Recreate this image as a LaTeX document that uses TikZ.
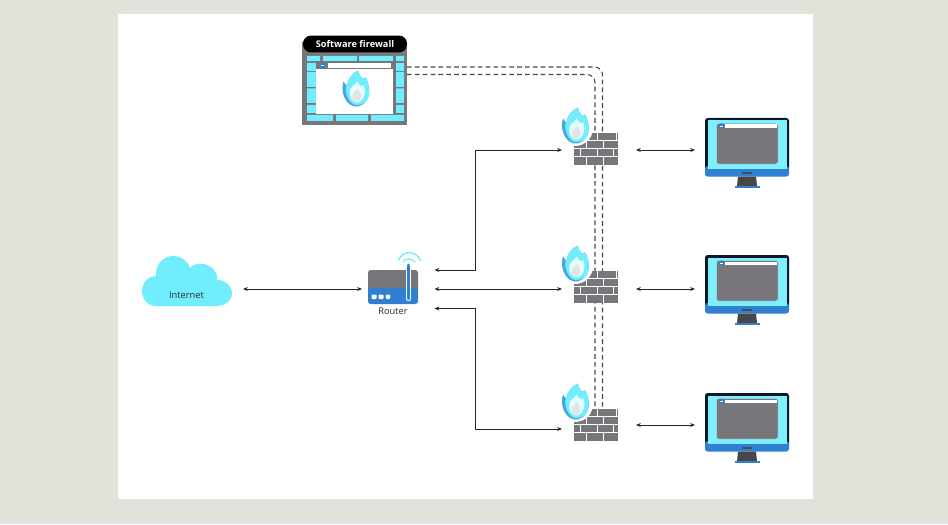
\documentclass[tikz,border=0pt]{standalone}
\usepackage{fontspec}
\setmainfont{Open Sans}
\usetikzlibrary{arrows.meta}
\definecolor{pagebg}{HTML}{E0E3DA}
\definecolor{cyanfill}{HTML}{70EEFD}
\definecolor{brick}{HTML}{77767B}
\definecolor{azure}{HTML}{2F80D0}
\definecolor{inktext}{HTML}{2A2F35}
\tikzset{
  x=0.75pt,y=-0.75pt,
  link/.style={draw=black!85,line width=0.6pt,{Stealth[length=3.6pt,width=3pt]}-{Stealth[length=3.6pt,width=3pt]}},
  dashlink/.style={draw=black!72,line width=0.8pt,dash pattern=on 3.5pt off 2.4pt,rounded corners=6pt},
  label/.style={font=\fontsize{7}{8}\selectfont,text=inktext,inner sep=0pt},
  flamepic/.pic={
    \begin{scope}[xscale=.92,yscale=.97]
    \fill[azure!65!cyanfill] (3,-20) .. controls (5,-12) and (9,-10) .. (11,-13)
      .. controls (15,-6) and (17,4) .. (12,11) .. controls (8,17) and (-1,19) .. (-6,15)
      .. controls (-13,10) and (-16,0) .. (-13,-9) .. controls (-12,-6) and (-10,-5) .. (-9,-5)
      .. controls (-9,-11) and (-3,-18) .. (3,-20) -- cycle;
    \fill[cyanfill] (3,-20) .. controls (5,-12) and (9,-10) .. (11,-13)
      .. controls (15,-6) and (17,4) .. (12,11) .. controls (9,15) and (3,16) .. (-2,15)
      .. controls (-9,11) and (-12,1) .. (-10,-5) .. controls (-9,-5) and (-9,-5) .. (-9,-5)
      .. controls (-9,-11) and (-3,-18) .. (3,-20) -- cycle;
    \fill[white!82!cyanfill] (2,-9) .. controls (4,-4) and (7,-3) .. (9,-5)
      .. controls (12,2) and (10,10) .. (3,13) .. controls (-3,14) and (-8,7) .. (-6,0)
      .. controls (-5,-3) and (-1,-5) .. (2,-9) -- cycle;
    \fill[brick!20] (2,-1) .. controls (6,3) and (8,7) .. (3,12) .. controls (-2,13) and (-5,9) .. (-3,4)
      .. controls (-2,2) and (1,2) .. (2,-1) -- cycle;
    \end{scope}
  },
  wallpic/.pic={
    \fill[brick] (-22,-16) rectangle (22,15.5);
    \foreach \yy in {-9,-1,7} \fill[white] (-22,\yy) rectangle (22,\yy+1);
    \foreach \xx in {0.5,20} \fill[white] (\xx,-16) rectangle (\xx+1,-9);
    \foreach \xx in {-10,7} \fill[white] (\xx,-8) rectangle (\xx+1,-1);
    \foreach \xx in {-16.5,0.5,17} \fill[white] (\xx,0) rectangle (\xx+1,7);
    \foreach \xx in {-10,7} \fill[white] (\xx,8) rectangle (\xx+1,15.5);
  },
  monitorpic/.pic={
    \fill[black!80!azure,rounded corners=2pt] (0,0) rectangle (84,53);
    \fill[azure,rounded corners=2pt] (0,48) rectangle (84,58.5);
    \fill[cyanfill!90!white] (2.5,2.5) rectangle (81.5,51);
    \fill[black!70] (37,53.5) rectangle (47,56);
    \fill[black!72] (33,58.5) -- (51,58.5) -- (52,68) -- (32,68) -- cycle;
    \fill[azure] (29.5,67.5) rectangle (55,70);
    \fill[brick,rounded corners=1.5pt,draw=white!50!cyanfill,line width=0.3pt] (11.5,5.5) rectangle (73,46);
    \fill[white] (20,6.5) rectangle (72,10);
    \fill[azure] (16.5,8) circle (2.6);
    \fill[white] (15.2,7.7) rectangle (17.8,8.3);
  },
}
\begin{document}
\begin{tikzpicture}
\useasboundingbox (0,0) rectangle (948,524);
\fill[pagebg] (0,0) rectangle (948,524);
\fill[white] (118,14) rectangle (813,499);

\coordinate (swA) at (407,67);
\coordinate (swB) at (407,74.5);
\coordinate (cornerA) at (602.5,67);
\coordinate (cornerB) at (595,74.5);
\coordinate (busA) at (602.5,410);
\coordinate (busB) at (595,410);

\draw[dashlink] (swA) -- (cornerA) -- (busA);
\draw[dashlink] (swB) -- (cornerB) -- (busB);

\foreach \yy in {149,287,425}{
  \pic at (596,\yy) {wallpic};
  \fill[white] (575,\yy-21) circle (18);
  \pic at (575,\yy-22) {flamepic};
}

\fill[brick] (302,42) rectangle (407,125);
\fill[cyanfill]
  (307,56) rectangle (320,61) (323,56) rectangle (357,61) (359,56) rectangle (393,61) (396,56) rectangle (404,61)
  (307,63) rectangle (316,71) (396,63) rectangle (404,71)
  (307,72) rectangle (316,87) (396,72) rectangle (404,87)
  (307,88.5) rectangle (316,103) (396,88.5) rectangle (404,103)
  (307,105) rectangle (316,113) (396,105) rectangle (404,113)
  (307,115) rectangle (333,121) (336,115) rectangle (368,121) (371,115) rectangle (404,121);
\fill[white] (316,62) rectangle (393,114);
\fill[brick] (316,62) rectangle (393,69.5);
\fill[white] (328,63.3) rectangle (391,68);
\fill[azure] (322.5,65.8) circle (3);
\fill[white] (321,65.5) rectangle (324,66.1);
\pic at (355.5,90) {flamepic};
\node[fill=black,text=white,rounded corners=6pt,minimum width=78pt,minimum height=12.7pt,inner sep=0pt,font=\fontsize{6.9}{8}\bfseries\selectfont] (sw) at (355,44) {Software firewall};

\foreach \yy in {118,255,393} \pic at (705,\yy) {monitorpic};

\fill[cyanfill] (156,306) .. controls (146,306) and (142,297) .. (142,291)
  .. controls (142,282) and (149,276) .. (156,276)
  .. controls (155,265) and (163,256) .. (173,256)
  .. controls (181,256) and (187,260) .. (190,268)
  .. controls (194,263) and (204,262) .. (211,267)
  .. controls (216,271) and (218,276) .. (217,280)
  .. controls (225,280) and (232,286) .. (232,293)
  .. controls (232,301) and (225,306) .. (218,306) -- cycle;
\node[label] (internet) at (186.5,295) {Internet};

\fill[brick,rounded corners=2pt] (368,270) rectangle (418,292);
\fill[azure,rounded corners=2pt] (368,288) rectangle (418,304);
\fill[brick] (368,286) rectangle (418,288);
\fill[white,rounded corners=0.6pt] (371.5,294.5) rectangle (376.5,299) (378.5,294.5) rectangle (383.5,299);
\fill[white] (388,296.8) circle (2.5);
\draw[white,line width=3.2pt,line cap=round] (408.5,265) -- (408.5,299);
\draw[azure,line width=1.9pt,line cap=round] (408.5,265) -- (408.5,299);
\draw[cyanfill,line width=1pt,line cap=round] (403,262) .. controls (405,258) and (412,258) .. (415,262);
\draw[cyanfill,line width=1pt,line cap=round] (398.5,260.5) .. controls (402,250) and (416,250) .. (420.5,260.5);
\node[label] (router) at (393,311) {Router};

\coordinate (netR) at (243,289);
\coordinate (rtL) at (362,289);
\coordinate (rtA) at (434.5,270);
\coordinate (rtB) at (434.5,289);
\coordinate (rtC) at (434.5,308.5);
\coordinate (fwA) at (562,150);
\coordinate (fwB) at (562,289);
\coordinate (fwC) at (562,429);
\coordinate (bendA1) at (475,270);
\coordinate (bendA2) at (475,150);
\coordinate (bendC1) at (475,308.5);
\coordinate (bendC2) at (475,429);
\coordinate (fwAr) at (636,150);
\coordinate (pcA) at (695,150);
\coordinate (fwBr) at (636,289);
\coordinate (pcB) at (695,289);
\coordinate (fwCr) at (636,425);
\coordinate (pcC) at (695,425);

\draw[link] (netR) -- (rtL);
\draw[link] (rtA) -- (bendA1) -- (bendA2) -- (fwA);
\draw[link] (rtB) -- (fwB);
\draw[link] (rtC) -- (bendC1) -- (bendC2) -- (fwC);
\draw[link] (fwAr) -- (pcA);
\draw[link] (fwBr) -- (pcB);
\draw[link] (fwCr) -- (pcC);
\end{tikzpicture}
\end{document}
